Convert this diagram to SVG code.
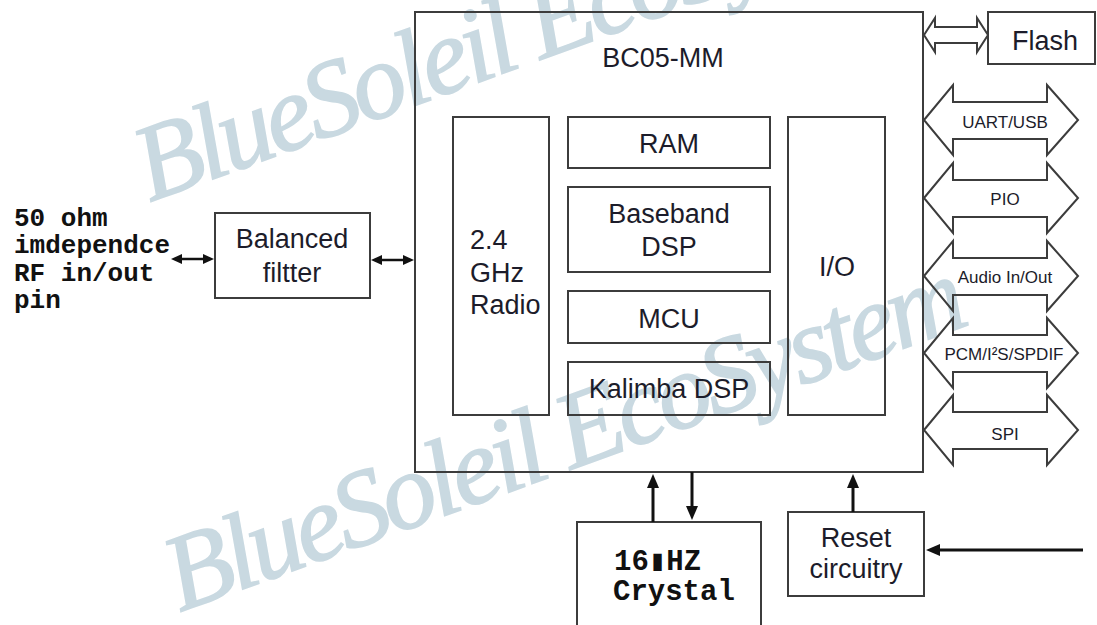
<svg xmlns="http://www.w3.org/2000/svg" width="1097" height="625" viewBox="0 0 1097 625">
<style>
.box{fill:none;stroke:#3c3c3c;stroke-width:2}
.lbl{font-family:"Liberation Sans",Arial,sans-serif;font-size:27px;fill:#1c1c2a;text-anchor:middle}
.lbl-l{font-family:"Liberation Sans",Arial,sans-serif;font-size:27px;fill:#1c1c2a}
.bus{fill:none;stroke:#3c3c3c;stroke-width:2;stroke-linejoin:miter}
.buslbl{font-family:"Liberation Sans",Arial,sans-serif;font-size:17px;fill:#1c1c2a;text-anchor:middle}
.mono{font-family:"Liberation Mono","DejaVu Sans Mono",monospace;font-weight:bold;fill:#111}
.wire{stroke:#111;stroke-width:3;fill:none}
.wire2{stroke:#111;stroke-width:2.5;fill:none}
.wm{font-family:"Liberation Serif","Times New Roman",serif;font-style:italic;font-size:108px;letter-spacing:-5px;fill:#c9d9e1;stroke:#c9d9e1;stroke-width:1.5}
</style>
<defs>
<marker id="ah" viewBox="0 0 14 12" refX="1" refY="6" markerWidth="14" markerHeight="12" markerUnits="userSpaceOnUse" orient="auto-start-reverse"><path d="M0,0 L14,6 L0,12 z" fill="#111"/></marker>
<marker id="ahs" viewBox="0 0 11 10" refX="1" refY="5" markerWidth="11" markerHeight="10" markerUnits="userSpaceOnUse" orient="auto-start-reverse"><path d="M0,0 L11,5 L0,10 z" fill="#111"/></marker>
</defs>
<rect width="1097" height="625" fill="#ffffff"/>
<g id="watermark">
<text class="wm" transform="translate(150,202) rotate(-20)">BlueSoleil EcoSystem</text>
<text class="wm" transform="translate(180,612) rotate(-20)">BlueSoleil EcoSystem</text>
</g>
<g id="rf-pin">
<text class="mono" font-size="26" x="14" y="226">50 ohm</text>
<text class="mono" font-size="26" x="14" y="253">imdependce</text>
<text class="mono" font-size="26" x="14" y="281">RF in/out</text>
<text class="mono" font-size="26" x="14" y="308">pin</text>
</g>
<g id="balanced-filter">
<rect class="box" x="215" y="213" width="155" height="85"/>
<text class="lbl" x="292" y="248">Balanced</text>
<text class="lbl" x="292" y="282">filtter</text>
</g>
<g id="bc05-mm">
<rect class="box" x="415" y="12" width="508" height="460"/>
<text class="lbl" x="663" y="67">BC05-MM</text>
</g>
<g id="radio">
<rect class="box" x="453" y="117" width="96" height="298"/>
<text class="lbl-l" x="470" y="249">2.4</text>
<text class="lbl-l" x="470" y="282">GHz</text>
<text class="lbl-l" x="470" y="314">Radio</text>
</g>
<g id="ram">
<rect class="box" x="568" y="117" width="202" height="51"/>
<text class="lbl" x="669" y="153">RAM</text>
</g>
<g id="baseband-dsp">
<rect class="box" x="568" y="187" width="202" height="85"/>
<text class="lbl" x="669" y="223">Baseband</text>
<text class="lbl" x="669" y="256">DSP</text>
</g>
<g id="mcu">
<rect class="box" x="568" y="291" width="202" height="52"/>
<text class="lbl" x="669" y="328">MCU</text>
</g>
<g id="kalimba-dsp">
<rect class="box" x="568" y="362" width="202" height="53"/>
<text class="lbl" x="669" y="398">Kalimba DSP</text>
</g>
<g id="io">
<rect class="box" x="788" y="117" width="97" height="298"/>
<text class="lbl" x="837" y="276">I/O</text>
</g>
<g id="flash">
<rect class="box" x="988" y="12" width="107" height="52"/>
<text class="lbl" x="1045" y="50">Flash</text>
</g>
<g id="crystal">
<rect class="box" x="577" y="522" width="184" height="120"/>
<text class="mono" font-size="29" x="614" y="570">16▮HZ</text>
<text class="mono" font-size="29" x="613" y="600">Crystal</text>
</g>
<g id="reset">
<rect class="box" x="788" y="512" width="136" height="84"/>
<text class="lbl" x="856" y="547">Reset</text>
<text class="lbl" x="856" y="578">circuitry</text>
</g>
<g id="connectors">
<line class="wire2" x1="181" y1="259" x2="204" y2="259" marker-start="url(#ahs)" marker-end="url(#ahs)"/>
<line class="wire2" x1="381" y1="260" x2="404" y2="260" marker-start="url(#ahs)" marker-end="url(#ahs)"/>
<line class="wire" x1="653" y1="522" x2="653" y2="487" marker-end="url(#ah)"/>
<line class="wire" x1="692" y1="472" x2="692" y2="507" marker-end="url(#ah)"/>
<line class="wire" x1="853" y1="512" x2="853" y2="487" marker-end="url(#ah)"/>
<line class="wire" x1="1083" y1="550" x2="939" y2="550" marker-end="url(#ah)"/>
<polygon class="bus" points="924,35 935,18 935,27 977,27 977,18 988,35 977,52 977,43 935,43 935,52"/>
<g id="bus-uart">
<polygon class="bus" points="924,120 953,85 953,102 1047,102 1047,85 1078,120 1047,155 1047,139 953,139 953,155"/>
<text class="buslbl" x="1005" y="128">UART/USB</text>
</g>
<g id="bus-pio">
<polygon class="bus" points="924,198 953,163 953,180 1047,180 1047,163 1078,198 1047,233 1047,217 953,217 953,233"/>
<text class="buslbl" x="1005" y="205">PIO</text>
</g>
<g id="bus-audio">
<polygon class="bus" points="924,276 953,241 953,258 1047,258 1047,241 1078,276 1047,311 1047,295 953,295 953,311"/>
<text class="buslbl" x="1005" y="283">Audio In/Out</text>
</g>
<g id="bus-pcm">
<polygon class="bus" points="924,353 953,318 953,335 1047,335 1047,318 1078,353 1047,388 1047,372 953,372 953,388"/>
<text class="buslbl" x="1004" y="360">PCM/I²S/SPDIF</text>
</g>
<g id="bus-spi">
<polygon class="bus" points="924,430 953,395 953,412 1047,412 1047,395 1078,430 1047,465 1047,449 953,449 953,465"/>
<text class="buslbl" x="1005" y="440">SPI</text>
</g>
</g>
</svg>
